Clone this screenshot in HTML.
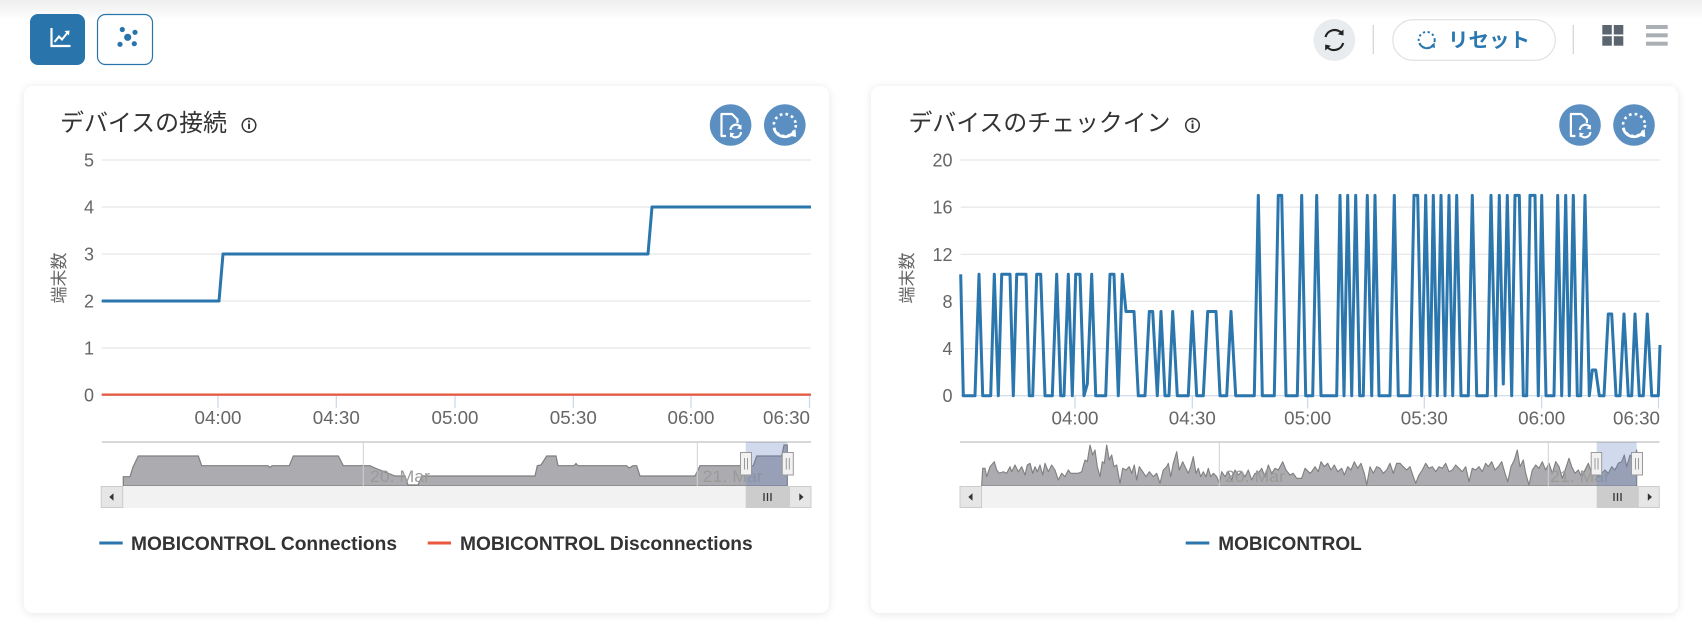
<!DOCTYPE html>
<html><head><meta charset="utf-8">
<style>
html,body{margin:0;padding:0;}
body{width:1702px;height:633px;overflow:hidden;background:#fff;position:relative;font-family:"Liberation Sans","Noto Sans CJK JP",sans-serif;}
.topshade{position:absolute;left:0;top:0;width:1702px;height:20px;background:linear-gradient(#eeeeee,#ffffff);}
.card{position:absolute;background:#fff;border-radius:9px;box-shadow:0 1px 9px rgba(0,0,0,0.10);}
svg{position:absolute;left:0;top:0;}
</style></head>
<body>
<div class="topshade"></div>
<div class="card" style="left:24px;top:86px;width:805px;height:527px;"></div>
<div class="card" style="left:871px;top:86px;width:807px;height:527px;"></div>

<svg width="1702" height="633" viewBox="0 0 1702 633" xmlns="http://www.w3.org/2000/svg" font-family="Liberation Sans, Noto Sans CJK JP, sans-serif">
  <!-- top-left buttons -->
  <rect x="30" y="14" width="55" height="51" rx="8" fill="#2874ab"/>
  <path d="M51.5,28 V46 H70.5" stroke="#fff" stroke-width="2.2" fill="none"/>
  <path d="M54.5,42 L59,36.5 L62,39.5 L68,32" stroke="#fff" stroke-width="2" fill="none"/>
  <path d="M64.5,31 L69.5,30.5 L69,35.5 Z" fill="#fff"/>
  <rect x="97.5" y="14.5" width="55" height="50" rx="8" fill="#fff" stroke="#2874ab" stroke-width="1.2"/>
  <circle cx="127.7" cy="37.3" r="3.6" fill="#2874ab"/>
  <circle cx="122.3" cy="29.5" r="2.6" fill="#2874ab"/>
  <circle cx="135" cy="32.3" r="2.6" fill="#2874ab"/>
  <circle cx="120" cy="44.3" r="2.6" fill="#2874ab"/>
  <circle cx="134.3" cy="43.7" r="2.6" fill="#2874ab"/>

  <!-- top-right toolbar -->
  <circle cx="1334.3" cy="40" r="21" fill="#e9ecee"/>
  <path d="M1325.5,37 A9.5,9.5 0 0 1 1342,33.5" stroke="#222" stroke-width="2.2" fill="none"/>
  <path d="M1343.5,29.5 L1343.5,35.5 L1337.8,34.2 Z" fill="#222"/>
  <path d="M1343.2,43 A9.5,9.5 0 0 1 1326.6,46.5" stroke="#222" stroke-width="2.2" fill="none"/>
  <path d="M1325.2,50.5 L1325.2,44.5 L1330.8,45.8 Z" fill="#222"/>
  <line x1="1373.3" y1="25" x2="1373.3" y2="54" stroke="#d6d6d6" stroke-width="1.3"/>
  <rect x="1392.8" y="19.8" width="162.5" height="40.5" rx="20.25" fill="#fff" stroke="#dcdcdc" stroke-width="1"/>
  <circle cx="1426.7" cy="40" r="8" fill="none" stroke="#2a78b0" stroke-width="2" stroke-dasharray="2.2 2.6"/>
  <path d="M1419.5,43 A8,8 0 0 0 1433,45.5" stroke="#2a78b0" stroke-width="2" fill="none"/>
  <path d="M1434.5,42.5 L1435,48 L1430,46.5 Z" fill="#2a78b0"/>
  <text x="1448" y="47" font-size="20" font-weight="bold" fill="#2a78b0" textLength="82" lengthAdjust="spacingAndGlyphs">リセット</text>
  <line x1="1573.3" y1="25" x2="1573.3" y2="54" stroke="#d6d6d6" stroke-width="1.3"/>
  <rect x="1602.3" y="25" width="9.5" height="9.5" fill="#5b6570"/>
  <rect x="1613.8" y="25" width="9.5" height="9.5" fill="#5b6570"/>
  <rect x="1602.3" y="36.2" width="9.5" height="9.5" fill="#5b6570"/>
  <rect x="1613.8" y="36.2" width="9.5" height="9.5" fill="#5b6570"/>
  <rect x="1646" y="25" width="21.7" height="4" fill="#a9afb4"/>
  <rect x="1646" y="33.3" width="21.7" height="4" fill="#a9afb4"/>
  <rect x="1646" y="41.7" width="21.7" height="4" fill="#a9afb4"/>

  <!-- ================= LEFT CARD ================= -->
  <text x="60" y="131" font-size="24" fill="#333" textLength="167" lengthAdjust="spacingAndGlyphs">デバイスの接続</text>
  <circle cx="249" cy="125.3" r="6.8" fill="none" stroke="#333" stroke-width="1.5"/>
  <rect x="248.1" y="123.5" width="1.9" height="5.5" fill="#333"/>
  <circle cx="249" cy="121.4" r="1.1" fill="#333"/>
  <!-- card buttons -->
  <circle cx="730.6" cy="125" r="20.8" fill="#5b8fc1"/>
  <path d="M726,136 H721.5 V114 H732 L737.5,119.5 V123" stroke="#fff" stroke-width="2.2" fill="none" stroke-linejoin="round"/>
  <path d="M730.5,130 A5.5,5.5 0 0 1 740.5,127" stroke="#fff" stroke-width="2.2" fill="none"/>
  <path d="M741.5,124.5 L741.5,129.5 L737,128.5 Z" fill="#fff"/>
  <path d="M741,132 A5.5,5.5 0 0 1 731,135" stroke="#fff" stroke-width="2.2" fill="none"/>
  <path d="M730,137.5 L730,132.5 L734.5,133.5 Z" fill="#fff"/>
  <circle cx="784.8" cy="125" r="20.8" fill="#5b8fc1"/>
  <circle cx="784.8" cy="125" r="11" fill="none" stroke="#fff" stroke-width="2.6" stroke-dasharray="2.6 3.2"/>
  <path d="M774,128 A11,11 0 0 0 792.5,133.5" stroke="#fff" stroke-width="2.8" fill="none"/>
  <path d="M795.5,129 L796,137 L788.5,135.5 Z" fill="#fff"/>

  <!-- axis title -->
  <text transform="translate(65,278) rotate(-90)" text-anchor="middle" font-size="17" fill="#666">端末数</text>
  <!-- gridlines -->
  <g stroke="#e6e6e6" stroke-width="1.2">
    <line x1="101.7" y1="160" x2="811" y2="160"/>
    <line x1="101.7" y1="207" x2="811" y2="207"/>
    <line x1="101.7" y1="254" x2="811" y2="254"/>
    <line x1="101.7" y1="301" x2="811" y2="301"/>
    <line x1="101.7" y1="348" x2="811" y2="348"/>
  </g>
  <line x1="101.7" y1="395.5" x2="811" y2="395.5" stroke="#ccd6eb" stroke-width="1"/>
  <g font-size="18" fill="#666" text-anchor="end">
    <text x="94" y="166.5">5</text>
    <text x="94" y="213.5">4</text>
    <text x="94" y="260.5">3</text>
    <text x="94" y="307.5">2</text>
    <text x="94" y="354.5">1</text>
    <text x="94" y="401.5">0</text>
  </g>
  <g stroke="#ccd6eb" stroke-width="1.2">
    <line x1="218" y1="395" x2="218" y2="408"/>
    <line x1="336.3" y1="395" x2="336.3" y2="408"/>
    <line x1="455" y1="395" x2="455" y2="408"/>
    <line x1="573.3" y1="395" x2="573.3" y2="408"/>
    <line x1="691" y1="395" x2="691" y2="408"/>
    <line x1="809.5" y1="395" x2="809.5" y2="408"/>
  </g>
  <g font-size="18" fill="#666" text-anchor="middle">
    <text x="218" y="424" textLength="47" lengthAdjust="spacingAndGlyphs">04:00</text>
    <text x="336.3" y="424" textLength="47" lengthAdjust="spacingAndGlyphs">04:30</text>
    <text x="455" y="424" textLength="47" lengthAdjust="spacingAndGlyphs">05:00</text>
    <text x="573.3" y="424" textLength="47" lengthAdjust="spacingAndGlyphs">05:30</text>
    <text x="691" y="424" textLength="47" lengthAdjust="spacingAndGlyphs">06:00</text>
    <text x="810" y="424" text-anchor="end" textLength="47" lengthAdjust="spacingAndGlyphs">06:30</text>
  </g>
  <!-- series -->
  <line x1="101.7" y1="394.6" x2="811" y2="394.6" stroke="#e9573f" stroke-width="2.2"/>
  <path d="M101.7,301 L219,301 L223,254 L648,254 L652,207 L811,207" stroke="#2a76ad" stroke-width="3" fill="none" stroke-linejoin="round"/>

  <!-- navigator -->
  <line x1="101.7" y1="442" x2="811" y2="442" stroke="#cccccc" stroke-width="1.5"/>
  <path d="M123.3,486 L123.3,476.7 L130,476.7 L133,467 L138.3,456 L198.3,456 L201.7,465.7 L268,465.7 L270,467.5 L272,465.7 L289.3,465.7 L293.3,456 L338.3,456 L343.3,465.7 L370,465.7 L375,468 L380,470 L395,476 L405,476 L408,485 L418,485 L422,476 L535,476 L537.3,465.7 L541,465 L546.7,456 L556,456 L558,465.7 L574,465.7 L576,463.5 L578,465.7 L626.7,465.7 L629,468 L633,465.7 L636.7,465.7 L640,476 L695,476 L700,465.7 L753.3,465.7 L756.7,456 L781.7,456 L784,445 L787.3,445 L787.3,486 Z" fill="#acacb0" stroke="#7f7f7f" stroke-width="1.2"/>
  <line x1="363.3" y1="442" x2="363.3" y2="486" stroke="#d0d0d0" stroke-width="1"/>
  <line x1="697.3" y1="442" x2="697.3" y2="486" stroke="#d0d0d0" stroke-width="1"/>
  <text x="370" y="482" font-size="17" fill="#9a9a9a" textLength="60" lengthAdjust="spacingAndGlyphs">20. Mar</text>
  <text x="702.7" y="482" font-size="17" fill="#9a9a9a" textLength="60" lengthAdjust="spacingAndGlyphs">21. Mar</text>
  <rect x="745.7" y="442" width="41.6" height="44" fill="rgba(102,133,194,0.3)"/>
  <!-- scrollbar -->
  <rect x="101.2" y="486" width="709.8" height="22" fill="#f2f2f2"/>
  <rect x="101.2" y="486.5" width="21.5" height="21" fill="#e6e6e6" stroke="#cccccc" stroke-width="1"/>
  <path d="M109.3,497 L113.5,493.2 L113.5,500.8 Z" fill="#333"/>
  <rect x="745.7" y="486" width="43.5" height="22" fill="#cccccc"/>
  <g stroke="#333" stroke-width="1.3"><line x1="764" y1="493" x2="764" y2="501"/><line x1="767.5" y1="493" x2="767.5" y2="501"/><line x1="771" y1="493" x2="771" y2="501"/></g>
  <rect x="789.5" y="486.5" width="21.5" height="21" fill="#e6e6e6" stroke="#cccccc" stroke-width="1"/>
  <path d="M803.5,497 L799.3,493.2 L799.3,500.8 Z" fill="#333"/>
  <!-- handles -->
  <rect x="740.5" y="452.5" width="11" height="22.5" fill="#f2f2f2" stroke="#999" stroke-width="1"/>
  <line x1="744.5" y1="458" x2="744.5" y2="469.5" stroke="#999"/><line x1="747.5" y1="458" x2="747.5" y2="469.5" stroke="#999"/>
  <rect x="782.3" y="452.5" width="11" height="22.5" fill="#f2f2f2" stroke="#999" stroke-width="1"/>
  <line x1="786.3" y1="458" x2="786.3" y2="469.5" stroke="#999"/><line x1="789.3" y1="458" x2="789.3" y2="469.5" stroke="#999"/>
  <!-- legend -->
  <line x1="99.3" y1="543" x2="122.7" y2="543" stroke="#2a76ad" stroke-width="3"/>
  <text x="131" y="550" font-size="19" font-weight="bold" fill="#333" textLength="266" lengthAdjust="spacingAndGlyphs">MOBICONTROL Connections</text>
  <line x1="427.7" y1="543" x2="451" y2="543" stroke="#e9573f" stroke-width="3"/>
  <text x="460" y="550" font-size="19" font-weight="bold" fill="#333" textLength="292.7" lengthAdjust="spacingAndGlyphs">MOBICONTROL Disconnections</text>

  <!-- ================= RIGHT CARD ================= -->
  <text x="908.5" y="131" font-size="24" fill="#333" textLength="262" lengthAdjust="spacingAndGlyphs">デバイスのチェックイン</text>
  <circle cx="1192.5" cy="125.3" r="6.8" fill="none" stroke="#333" stroke-width="1.5"/>
  <rect x="1191.6" y="123.5" width="1.9" height="5.5" fill="#333"/>
  <circle cx="1192.5" cy="121.4" r="1.1" fill="#333"/>
  <circle cx="1580" cy="125" r="20.8" fill="#5b8fc1"/>
  <path d="M1575.4,136 H1570.9 V114 H1581.4 L1586.9,119.5 V123" stroke="#fff" stroke-width="2.2" fill="none" stroke-linejoin="round"/>
  <path d="M1579.9,130 A5.5,5.5 0 0 1 1589.9,127" stroke="#fff" stroke-width="2.2" fill="none"/>
  <path d="M1590.9,124.5 L1590.9,129.5 L1586.4,128.5 Z" fill="#fff"/>
  <path d="M1590.4,132 A5.5,5.5 0 0 1 1580.4,135" stroke="#fff" stroke-width="2.2" fill="none"/>
  <path d="M1579.4,137.5 L1579.4,132.5 L1583.9,133.5 Z" fill="#fff"/>
  <circle cx="1634" cy="125" r="20.8" fill="#5b8fc1"/>
  <circle cx="1634" cy="125" r="11" fill="none" stroke="#fff" stroke-width="2.6" stroke-dasharray="2.6 3.2"/>
  <path d="M1623.2,128 A11,11 0 0 0 1641.7,133.5" stroke="#fff" stroke-width="2.8" fill="none"/>
  <path d="M1644.7,129 L1645.2,137 L1637.7,135.5 Z" fill="#fff"/>

  <text transform="translate(913,278) rotate(-90)" text-anchor="middle" font-size="17" fill="#666">端末数</text>
  <g stroke="#e6e6e6" stroke-width="1.2">
    <line x1="960.7" y1="160" x2="1660" y2="160"/>
    <line x1="960.7" y1="207.1" x2="1660" y2="207.1"/>
    <line x1="960.7" y1="254.3" x2="1660" y2="254.3"/>
    <line x1="960.7" y1="301.4" x2="1660" y2="301.4"/>
    <line x1="960.7" y1="348.6" x2="1660" y2="348.6"/>
  </g>
  <line x1="960.7" y1="395.7" x2="1660" y2="395.7" stroke="#ccd6eb" stroke-width="1.2"/>
  <g font-size="18" fill="#666" text-anchor="end">
    <text x="952.5" y="166.5">20</text>
    <text x="952.5" y="213.6">16</text>
    <text x="952.5" y="260.8">12</text>
    <text x="952.5" y="307.9">8</text>
    <text x="952.5" y="355.1">4</text>
    <text x="952.5" y="402.2">0</text>
  </g>
  <g stroke="#ccd6eb" stroke-width="1.2">
    <line x1="1075" y1="395.7" x2="1075" y2="408.5"/>
    <line x1="1192.3" y1="395.7" x2="1192.3" y2="408.5"/>
    <line x1="1307.7" y1="395.7" x2="1307.7" y2="408.5"/>
    <line x1="1424.3" y1="395.7" x2="1424.3" y2="408.5"/>
    <line x1="1541.7" y1="395.7" x2="1541.7" y2="408.5"/>
    <line x1="1658.5" y1="395.7" x2="1658.5" y2="408.5"/>
  </g>
  <g font-size="18" fill="#666" text-anchor="middle">
    <text x="1075" y="424.5" textLength="47" lengthAdjust="spacingAndGlyphs">04:00</text>
    <text x="1192.3" y="424.5" textLength="47" lengthAdjust="spacingAndGlyphs">04:30</text>
    <text x="1307.7" y="424.5" textLength="47" lengthAdjust="spacingAndGlyphs">05:00</text>
    <text x="1424.3" y="424.5" textLength="47" lengthAdjust="spacingAndGlyphs">05:30</text>
    <text x="1541.7" y="424.5" textLength="47" lengthAdjust="spacingAndGlyphs">06:00</text>
    <text x="1660" y="424.5" text-anchor="end" textLength="47" lengthAdjust="spacingAndGlyphs">06:30</text>
  </g>
  <path d="M960.7,274.3 L963.3,395.7 L975,395.7 L979,274.3 L982.7,395.7 L990.7,395.7 L994.3,274.3 L998.3,395.7 L1001.7,274.3 L1010,274.3 L1013.3,395.7 L1016.7,274.3 L1026,274.3 L1029.3,395.7 L1032.7,395.7 L1036.7,274.3 L1040.7,274.3 L1045,395.7 L1052.3,395.7 L1056.7,274.3 L1060.7,395.7 L1064,395.7 L1068.3,274.3 L1072.3,395.7 L1075.7,274.3 L1080,274.3 L1084,395.7 L1087.3,384 L1091.7,274.3 L1095.7,395.7 L1105.7,395.7 L1110,274.3 L1114,274.3 L1118.3,395.7 L1122.3,274.3 L1126,311.5 L1134,311.5 L1138.3,395.7 L1145,395.7 L1149.3,311.5 L1152.7,311.5 L1157.3,395.7 L1161,311.5 L1165,395.7 L1169,395.7 L1172.7,311.5 L1177.3,395.7 L1188.3,395.7 L1192.3,311.5 L1196.7,395.7 L1203.3,395.7 L1207.7,311.5 L1216,311.5 L1220,395.7 L1226.7,395.7 L1231,311.5 L1235.7,395.7 L1254.3,395.7 L1258.3,195.4 L1262.3,395.7 L1274.3,395.7 L1278.3,195.4 L1281.7,195.4 L1286,395.7 L1297.3,395.7 L1301.7,195.4 L1305.7,395.7 L1312.7,395.7 L1316.7,195.4 L1321,395.7 L1336.7,395.7 L1340,195.4 L1344,395.7 L1347.7,195.4 L1351.7,395.7 L1355.7,195.4 L1359.7,395.7 L1363.3,395.7 L1367.3,195.4 L1371.7,395.7 L1375,195.4 L1379,395.7 L1390,395.7 L1394.3,195.4 L1398.3,395.7 L1410,395.7 L1414,195.4 L1417.7,195.4 L1421.7,395.7 L1425.7,195.4 L1430,395.7 L1433.3,195.4 L1437.3,395.7 L1441,195.4 L1445,395.7 L1449,195.4 L1452.7,395.7 L1456.7,195.4 L1461,395.7 L1468.3,395.7 L1472.3,195.4 L1476.7,395.7 L1487.3,395.7 L1491,195.4 L1495.7,395.7 L1499.3,195.4 L1503.3,384 L1507.3,195.4 L1511.7,395.7 L1515,195.4 L1519.3,195.4 L1523.3,395.7 L1526.7,395.7 L1530,195.4 L1535,195.4 L1538.3,395.7 L1541.7,195.4 L1546,395.7 L1554,395.7 L1557.7,195.4 L1561.7,395.7 L1565.7,195.4 L1569.3,395.7 L1573.3,195.4 L1577.3,395.7 L1580.7,395.7 L1585,195.4 L1589.3,395.7 L1592.3,370 L1595.7,370 L1599.3,395.7 L1604,395.7 L1608.3,314 L1611.7,314 L1616,395.7 L1620,395.7 L1624,314 L1628.3,395.7 L1631.7,395.7 L1635,314 L1639.3,395.7 L1643.3,395.7 L1647.3,314 L1651.7,395.7 L1658.3,395.7 L1660,345" stroke="#2a76ad" stroke-width="3" fill="none" stroke-linejoin="round"/>

  <!-- right navigator -->
  <line x1="960" y1="442" x2="1659.5" y2="442" stroke="#cccccc" stroke-width="1.5"/>
  <path d="M981.7,486 L981.7,485 L982.7,468.3 L985,468.3 L986.7,476.7 L990,466.7 L994.3,461.7 L996.7,470 L999.3,473.3 L1003.3,471.7 L1006.7,473.3 L1010,466.7 L1011.7,471.7 L1015,465 L1018.3,471.7 L1021.7,466.7 L1025,475 L1027.3,465 L1030,463.3 L1032.7,473.3 L1035,466.7 L1037.3,471.7 L1040,465 L1042.7,475 L1045,463.3 L1048.3,471.7 L1051.7,465 L1055,470 L1058.3,480 L1061.7,473.3 L1065,476.7 L1068.3,470 L1070.7,473.3 L1078.3,473.3 L1081.7,471.7 L1085,460 L1087.3,461.7 L1090,445 L1092.7,455 L1095,450 L1097.3,466.7 L1100,476.7 L1102.3,461.7 L1104.3,463.3 L1106.7,445 L1109.3,460 L1111.7,455 L1114,466.7 L1116.7,465 L1120,483.3 L1122.7,468.3 L1126,470 L1129.3,466.7 L1131.7,473.3 L1134.3,465 L1136.7,480 L1139.3,466.7 L1142.7,471.7 L1146,476.7 L1149.3,471.7 L1153.3,476.7 L1156.7,473.3 L1160,483.3 L1163.3,470 L1166.7,466.7 L1168.3,463.3 L1170.7,476.7 L1173.3,463.3 L1176.7,451.7 L1179.3,470 L1182.7,461.7 L1185,466.7 L1188.3,473.3 L1190.7,466.7 L1193.3,456.7 L1196,473.3 L1198.3,468.3 L1200.7,476.7 L1203.3,471.7 L1206,476.7 L1208.3,468.3 L1210.7,476.7 L1213.3,473.3 L1216.7,476.7 L1219.3,483.3 L1221.7,471.7 L1225,476.7 L1228.3,471.7 L1231.7,480 L1235,470 L1238.3,475 L1241.7,471.7 L1245,476.7 L1248.3,470 L1251.7,480 L1255,473.3 L1258.3,473.3 L1261.7,468.3 L1265,476.7 L1268.3,465 L1271.7,473.3 L1275,468.3 L1278.3,470 L1282.7,461.7 L1286,470 L1290,475 L1293.3,473.3 L1296.7,478.3 L1301.7,478.3 L1305,468.3 L1310,473.3 L1311.7,471.7 L1315,466.7 L1318.3,471.7 L1321,461.7 L1324.3,466.7 L1327.7,463.3 L1331,470 L1334.3,465 L1337.7,471.7 L1341.7,468.3 L1344.3,475 L1347.7,466.7 L1351,470 L1354.3,461.7 L1357.7,468.3 L1361,463.3 L1364.3,473.3 L1366.7,485 L1370,466.7 L1373.3,473.3 L1376.7,466.7 L1380,468.3 L1383.3,473.3 L1386.7,470 L1390,463.3 L1393.3,473.3 L1396.7,463.3 L1400,463.3 L1403.3,466.7 L1406.7,470 L1410,466.7 L1413.3,476.7 L1415.7,483.3 L1419,475 L1422.3,470 L1425.7,463.3 L1429,468.3 L1432.3,466.7 L1435.7,471.7 L1439,466.7 L1442.3,468.3 L1445.7,463.3 L1449,471.7 L1452.3,470 L1455.7,465 L1459,468.3 L1462.3,471.7 L1465.7,466.7 L1469,481.7 L1472.3,468.3 L1475.7,470 L1479,466.7 L1482.3,471.7 L1485.7,463.3 L1488.3,466.7 L1491.7,461.7 L1495,470 L1498.3,466.7 L1501.7,461.7 L1505,473.3 L1507.7,481.7 L1511,466.7 L1514.3,460 L1517.3,450 L1520,466.7 L1523.3,460 L1525.7,473.3 L1529,485 L1532.3,470 L1535.7,465 L1539,468.3 L1542.3,461.7 L1545.7,470 L1549,463.3 L1552.3,473.3 L1555.7,461.7 L1559,466.7 L1562.3,478.3 L1565.7,468.3 L1569,458.3 L1571.7,466.7 L1575,473.3 L1578.3,470 L1581.7,476.7 L1585,470 L1588.3,463.3 L1591.7,473.3 L1595,473.3 L1598.3,476.7 L1601.7,473.3 L1605,470 L1608.3,473.3 L1611.7,466.7 L1615,470 L1618.3,463.3 L1621.7,461.7 L1624.3,455 L1626.7,466.7 L1630,455 L1633.3,460 L1636.7,450 L1636.7,486 Z" fill="#acacb0" stroke="#7f7f7f" stroke-width="1.1" stroke-linejoin="round"/>
  <line x1="1219.3" y1="442" x2="1219.3" y2="486" stroke="#d0d0d0" stroke-width="1"/>
  <line x1="1548.3" y1="442" x2="1548.3" y2="486" stroke="#d0d0d0" stroke-width="1"/>
  <text x="1225" y="482" font-size="17" fill="#9a9a9a" textLength="60" lengthAdjust="spacingAndGlyphs">20. Mar</text>
  <text x="1550" y="482" font-size="17" fill="#9a9a9a" textLength="60" lengthAdjust="spacingAndGlyphs">21. Mar</text>
  <rect x="1596.7" y="442" width="40" height="44" fill="rgba(102,133,194,0.3)"/>
  <rect x="960" y="486" width="699.5" height="22" fill="#f2f2f2"/>
  <rect x="960" y="486.5" width="21.5" height="21" fill="#e6e6e6" stroke="#cccccc" stroke-width="1"/>
  <path d="M968.3,497 L972.5,493.2 L972.5,500.8 Z" fill="#333"/>
  <rect x="1596.7" y="486" width="41.5" height="22" fill="#cccccc"/>
  <g stroke="#333" stroke-width="1.3"><line x1="1614" y1="493" x2="1614" y2="501"/><line x1="1617.5" y1="493" x2="1617.5" y2="501"/><line x1="1621" y1="493" x2="1621" y2="501"/></g>
  <rect x="1638.3" y="486.5" width="21" height="21" fill="#e6e6e6" stroke="#cccccc" stroke-width="1"/>
  <path d="M1652,497 L1647.8,493.2 L1647.8,500.8 Z" fill="#333"/>
  <rect x="1591.2" y="452.5" width="10.5" height="22.5" fill="#f2f2f2" stroke="#999" stroke-width="1"/>
  <line x1="1595" y1="458" x2="1595" y2="469.5" stroke="#999"/><line x1="1598" y1="458" x2="1598" y2="469.5" stroke="#999"/>
  <rect x="1631.5" y="452.5" width="11" height="22.5" fill="#f2f2f2" stroke="#999" stroke-width="1"/>
  <line x1="1635.5" y1="458" x2="1635.5" y2="469.5" stroke="#999"/><line x1="1638.5" y1="458" x2="1638.5" y2="469.5" stroke="#999"/>
  <!-- legend -->
  <line x1="1185.7" y1="543" x2="1209.3" y2="543" stroke="#2a76ad" stroke-width="3"/>
  <text x="1218.3" y="550" font-size="19" font-weight="bold" fill="#333" textLength="143.4" lengthAdjust="spacingAndGlyphs">MOBICONTROL</text>
</svg>
</body></html>
